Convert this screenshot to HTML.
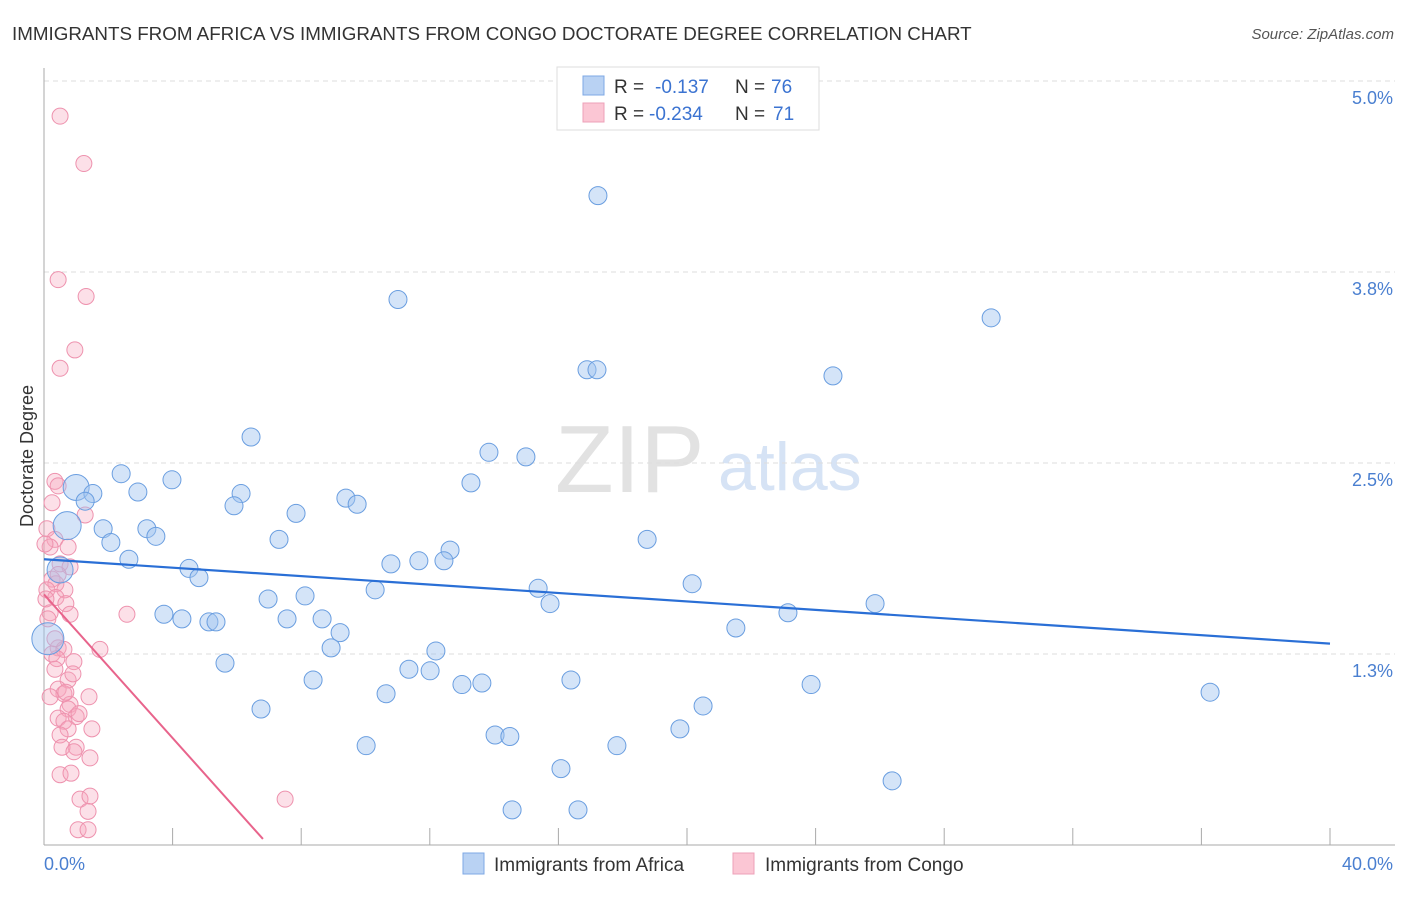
<!DOCTYPE html>
<html><head><meta charset="utf-8"><style>
body{margin:0;background:#fff;font-family:"Liberation Sans",sans-serif;}
svg text{font-family:"Liberation Sans",sans-serif;}
</style></head><body>
<svg id="chart" width="1406" height="892" xmlns="http://www.w3.org/2000/svg">
<text x="12" y="40" font-size="18.8" fill="#333">IMMIGRANTS FROM AFRICA VS IMMIGRANTS FROM CONGO DOCTORATE DEGREE CORRELATION CHART</text>
<text x="1394" y="39" font-size="15" fill="#555" font-style="italic" text-anchor="end">Source: ZipAtlas.com</text>
<text x="555" y="492" font-size="96" fill="#e2e2e2" font-family="Liberation Serif">ZIP</text>
<text x="718" y="490" font-size="68" fill="#d6e3f5">atlas</text>
<g id="grid"></g>
<g id="axes"></g>
<g id="marks"></g>
<text transform="translate(33,456) rotate(-90)" font-size="18" fill="#333" text-anchor="middle">Doctorate Degree</text>
<g>
<rect x="557" y="67" width="262" height="63" fill="#fff" stroke="#ddd"/>
<rect x="583" y="76" width="21" height="19" fill="#b9d2f3" stroke="#7ea8e4"/>
<rect x="583" y="103" width="21" height="19" fill="#fbc6d4" stroke="#eea0b8"/>
<text x="614" y="93" font-size="19" fill="#333">R = </text><text x="655" y="93" font-size="19" fill="#3b73d1">-0.137</text>
<text x="735" y="93" font-size="19" fill="#333">N = </text><text x="771" y="93" font-size="19" fill="#3b73d1">76</text>
<text x="614" y="120" font-size="19" fill="#333">R = </text><text x="649" y="120" font-size="19" fill="#3b73d1">-0.234</text>
<text x="735" y="120" font-size="19" fill="#333">N = </text><text x="773" y="120" font-size="19" fill="#3b73d1">71</text>
</g>
<g>
<rect x="463" y="853" width="21" height="21" fill="#b9d2f3" stroke="#7ea8e4"/>
<text x="494" y="871" font-size="19" fill="#333">Immigrants from Africa</text>
</g>
<g>
<rect x="733" y="853" width="21" height="21" fill="#fbc6d4" stroke="#eea0b8"/>
<text x="765" y="871" font-size="19" fill="#333">Immigrants from Congo</text>
</g>
</svg>
<script>
const yTicks=[1.25,2.5,3.75,5.0];
const yTickLabels=["1.3%","2.5%","3.8%","5.0%"];
const xTickVals=[0,4,8,12,16,20,24,28,32,36,40];
const xEndLabels=["0.0%","40.0%"];
const africaX=[17.23,11.01,29.46,16.89,17.20,24.54,6.44,13.84,14.99,2.40,3.98,13.28,1.00,1.52,2.92,6.13,1.28,9.39,5.91,9.74,7.84,0.72,1.84,3.20,3.48,18.76,7.31,2.08,12.63,2.64,11.66,10.79,12.44,4.51,4.82,20.16,10.30,15.37,6.97,8.12,15.74,25.85,23.14,3.73,4.29,5.13,5.35,7.56,8.65,9.21,21.52,0.12,8.93,12.19,5.63,11.35,12.01,8.37,13.00,13.62,16.39,23.86,36.27,10.64,20.50,6.75,19.78,14.03,14.49,10.02,17.82,16.08,26.38,14.56,16.61,0.50];
const africaY=[4.25,3.57,3.45,3.11,3.11,3.07,2.67,2.57,2.54,2.43,2.39,2.37,2.34,2.30,2.31,2.30,2.25,2.27,2.22,2.23,2.17,2.09,2.07,2.07,2.02,2.00,2.00,1.98,1.93,1.87,1.86,1.84,1.86,1.81,1.75,1.71,1.67,1.68,1.61,1.63,1.58,1.58,1.52,1.51,1.48,1.46,1.46,1.48,1.48,1.39,1.42,1.35,1.29,1.27,1.19,1.15,1.14,1.08,1.05,1.06,1.08,1.05,1.00,0.99,0.91,0.89,0.76,0.72,0.71,0.65,0.65,0.50,0.42,0.23,0.23,1.80];
const africaSize=[9,9,9,9,9,9,9,9,9,9,9,9,13,9,9,9,9,9,9,9,9,14,9,9,9,9,9,9,9,9,9,9,9,9,9,9,9,9,9,9,9,9,9,9,9,9,9,9,9,9,9,16,9,9,9,9,9,9,9,9,9,9,9,9,9,9,9,9,9,9,9,9,9,9,9,13];
const congoX=[0.50,1.24,0.44,1.31,0.96,0.50,0.34,0.44,0.25,1.28,0.09,0.34,0.19,0.75,0.50,0.81,0.25,0.37,0.09,0.65,0.37,0.06,0.68,0.81,0.19,2.58,0.44,0.25,0.62,0.40,0.93,0.34,0.75,0.44,0.62,0.19,1.40,0.81,0.75,0.44,1.00,0.62,1.09,0.75,1.49,0.50,1.00,0.56,0.93,1.43,0.50,0.84,1.12,1.43,1.37,1.06,1.37,7.50,0.90,0.44,0.12,0.03,0.34,1.74,0.68];
const congoY=[4.77,4.46,3.70,3.59,3.24,3.12,2.38,2.35,2.24,2.16,2.07,2.00,1.95,1.95,1.84,1.82,1.74,1.71,1.67,1.67,1.62,1.61,1.58,1.51,1.52,1.51,1.29,1.25,1.28,1.22,1.20,1.15,1.08,1.02,0.99,0.97,0.97,0.92,0.89,0.83,0.84,0.81,0.86,0.76,0.76,0.72,0.64,0.64,0.61,0.57,0.46,0.47,0.30,0.32,0.22,0.10,0.10,0.30,1.12,1.77,1.48,1.97,1.35,1.28,1.00];
const trendAfrica=[1.87,-0.0138];
const trendCongo=[1.64,-0.235];
const congoLineEnd=6.81;

const X0=44,PX=32.15,Y0=845,PY=152.8;
const xs=v=>X0+v*PX, ys=v=>Y0-v*PY;
const NS="http://www.w3.org/2000/svg";
function mk(tag,attrs,parent){const e=document.createElementNS(NS,tag);for(const k in attrs)e.setAttribute(k,attrs[k]);document.getElementById(parent).appendChild(e);return e;}

const topGrid=mk('line',{x1:44,x2:1395,y1:ys(5.0),y2:ys(5.0),stroke:'#ddd','stroke-dasharray':'5,4'},'grid');


yTicks.forEach((v,i)=>{
  const g=mk('line',{x1:44,x2:1395,y1:ys(v),y2:ys(v),stroke:'#ddd','stroke-dasharray':'5,4'},'grid');
  
  
  const t=mk('text',{x:1393,y:ys(v)+23,'font-size':18,fill:'#4a7fd0','text-anchor':'end'},'grid');
  t.textContent=yTickLabels[i];
  
  
});
const ya=mk('line',{x1:44,x2:44,y1:68,y2:845,stroke:'#aaa'},'axes');


const xa=mk('line',{x1:44,x2:1395,y1:845,y2:845,stroke:'#aaa'},'axes');


xTickVals.forEach(v=>{
  const t=mk('line',{x1:xs(v),x2:xs(v),y1:828,y2:845,stroke:'#aaa'},'axes');
  
  
});
const l0=mk('text',{x:44,y:870,'font-size':18,fill:'#4a7fd0'},'axes');
l0.textContent=xEndLabels[0];


const l1=mk('text',{x:1393,y:870,'font-size':18,fill:'#4a7fd0','text-anchor':'end'},'axes');
l1.textContent=xEndLabels[1];



congoX.forEach((x,i)=>{
  const c=mk('circle',{cx:xs(x),cy:ys(congoY[i]),r:8,fill:'rgba(246,165,190,0.35)',stroke:'#ee92ae','stroke-width':1},'marks');
  
  
});
africaX.forEach((x,i)=>{
  const c=mk('circle',{cx:xs(x),cy:ys(africaY[i]),r:africaSize[i],fill:'rgba(160,196,240,0.45)',stroke:'#6a9ee0','stroke-width':1},'marks');
  
  
});
const ta=mk('line',{x1:xs(0),y1:ys(trendAfrica[0]),x2:xs(40),y2:ys(trendAfrica[0]+trendAfrica[1]*40),stroke:'#2a6fd6','stroke-width':2.2},'marks');


const tc=mk('line',{x1:xs(0),y1:ys(trendCongo[0]),x2:xs(congoLineEnd),y2:ys(trendCongo[0]+trendCongo[1]*congoLineEnd),stroke:'#e8648c','stroke-width':2},'marks');


</script>
</body></html>
